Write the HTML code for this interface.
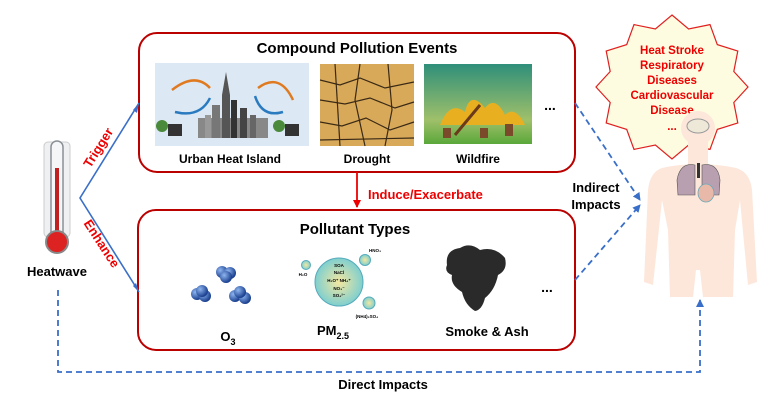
<!DOCTYPE html>
<html><head><meta charset="utf-8"><style>
html,body{margin:0;padding:0;background:#fff}
svg{display:block}
text{font-family:"Liberation Sans",Arial,sans-serif;font-weight:bold}
</style></head><body>
<svg width="782" height="411" viewBox="0 0 782 411" xmlns="http://www.w3.org/2000/svg">
<defs>
<marker id="ab" markerWidth="8" markerHeight="8" refX="7" refY="4" orient="auto" markerUnits="userSpaceOnUse"><path d="M0,0 L8,4 L0,8 z" fill="#3a6fc9"/></marker>
<marker id="ar" markerWidth="8" markerHeight="8" refX="7" refY="4" orient="auto" markerUnits="userSpaceOnUse"><path d="M0,0 L8,4 L0,8 z" fill="#e00"/></marker>
<radialGradient id="bl" cx="35%" cy="35%" r="65%"><stop offset="0" stop-color="#8fb6f0"/><stop offset="1" stop-color="#1a3f8f"/></radialGradient>
<radialGradient id="pm" cx="50%" cy="50%" r="50%"><stop offset="0" stop-color="#f4e7a0"/><stop offset="1" stop-color="#7fcfcf"/></radialGradient>
<linearGradient id="fire" x1="0" y1="0" x2="0" y2="1"><stop offset="0" stop-color="#2f8f7a"/><stop offset="0.7" stop-color="#9fc06a"/><stop offset="1" stop-color="#5aa83a"/></linearGradient>
</defs>

<rect x="139" y="33" width="436" height="139" rx="18" fill="#fff" stroke="#b00" stroke-width="2"/>
<rect x="138" y="210" width="437" height="140" rx="18" fill="#fff" stroke="#b00" stroke-width="2"/>
<text x="357" y="53" font-size="15" text-anchor="middle">Compound Pollution Events</text>
<text x="355" y="234" font-size="15" text-anchor="middle">Pollutant Types</text>

<rect x="155" y="63" width="154" height="83" fill="#dce8f4"/>
<g fill="#555">
<rect x="198" y="118" width="70" height="20" fill="#888"/>
<rect x="222" y="95" width="8" height="43"/><polygon points="226,72 222,95 230,95"/>
<rect x="231" y="100" width="6" height="38" fill="#333"/>
<rect x="212" y="105" width="8" height="33" fill="#777"/>
<rect x="240" y="108" width="7" height="30" fill="#444"/>
<rect x="205" y="115" width="6" height="23" fill="#999"/>
<rect x="250" y="115" width="6" height="23" fill="#666"/>
</g>
<circle cx="162" cy="126" r="6" fill="#4a8a3a"/><rect x="168" y="124" width="14" height="12" fill="#333"/>
<circle cx="279" cy="126" r="6" fill="#4a8a3a"/><rect x="285" y="124" width="14" height="12" fill="#333"/>
<path d="M210,88 Q195,72 172,90" fill="none" stroke="#e07a20" stroke-width="2.5"/>
<path d="M175,112 Q200,118 210,98" fill="none" stroke="#2a7ac0" stroke-width="2.5"/>
<path d="M258,88 Q280,72 293,100" fill="none" stroke="#e07a20" stroke-width="2.5"/>
<path d="M283,112 Q262,118 255,96" fill="none" stroke="#2a7ac0" stroke-width="2.5"/>
<text x="230" y="163" font-size="12" text-anchor="middle">Urban Heat Island</text>

<rect x="320" y="64" width="94" height="82" fill="#d9a95a"/>
<g stroke="#3a2a15" stroke-width="1.2" fill="none">
<path d="M320,80 L340,85 L360,78 L385,88 L414,82"/><path d="M320,100 L345,104 L370,98 L395,108 L414,102"/>
<path d="M320,122 L342,126 L366,118 L390,130 L414,122"/><path d="M335,64 L340,146"/><path d="M360,64 L355,100 L365,146"/><path d="M388,64 L392,110 L385,146"/>
<path d="M320,140 L414,138"/>
</g>
<text x="367" y="163" font-size="12" text-anchor="middle">Drought</text>

<rect x="424" y="64" width="108" height="80" fill="url(#fire)"/>
<path d="M440,125 Q450,100 465,112 Q470,90 485,108 Q495,95 505,115 Q515,105 525,125 Z" fill="#e8b020"/>
<rect x="443" y="128" width="8" height="10" fill="#7a4a2a"/><rect x="480" y="128" width="8" height="10" fill="#7a4a2a"/><rect x="505" y="124" width="8" height="12" fill="#7a4a2a"/>
<line x1="455" y1="135" x2="480" y2="105" stroke="#6a3a1a" stroke-width="3"/>
<text x="478" y="163" font-size="12" text-anchor="middle">Wildfire</text>
<text x="550" y="110" font-size="14" text-anchor="middle">...</text>

<g fill="url(#bl)">
<circle cx="222" cy="272" r="6"/><circle cx="230" cy="273" r="6"/>
<circle cx="197" cy="294" r="6"/><circle cx="205" cy="296" r="6"/>
<circle cx="235" cy="296" r="6"/><circle cx="245" cy="298" r="6"/>
<circle cx="226" cy="277" r="6"/><circle cx="202" cy="291" r="6"/><circle cx="240" cy="292" r="6"/>
</g>
<text x="228" y="341" font-size="13" text-anchor="middle">O<tspan font-size="9" dy="4">3</tspan></text>

<circle cx="339" cy="282" r="24" fill="url(#pm)" stroke="#5ab" stroke-width="1"/>
<circle cx="306" cy="265" r="4.5" fill="url(#pm)" stroke="#5ab"/>
<circle cx="365" cy="260" r="5.5" fill="url(#pm)" stroke="#5ab"/>
<circle cx="369" cy="303" r="6" fill="url(#pm)" stroke="#5ab"/>
<g font-size="4.5" text-anchor="middle">
<text x="339" y="267">SOA</text><text x="339" y="274">NaCl</text><text x="339" y="282">H₂O⁺ NH₄⁺</text><text x="339" y="290">NO₃⁻</text><text x="339" y="297">SO₄²⁻</text>
<text x="303" y="276">H₂O</text><text x="375" y="252">HNO₃</text><text x="367" y="318">(NH4)₂SO₄</text>
</g>
<text x="333" y="335" font-size="13" text-anchor="middle">PM<tspan font-size="9" dy="4">2.5</tspan></text>

<path d="M447,265 Q445,250 460,248 Q470,242 480,250 Q495,246 505,258 Q508,270 498,275 Q495,290 485,298 Q482,310 475,311 Q465,305 462,292 Q450,285 452,275 Q444,272 447,265 Z" fill="#2a2a2a"/>
<text x="487" y="336" font-size="13" text-anchor="middle">Smoke &amp; Ash</text>
<text x="547" y="292" font-size="14" text-anchor="middle">...</text>

<rect x="44" y="142" width="26" height="95" rx="4" fill="#eef0f2" stroke="#ccc"/>
<rect x="51" y="141" width="12" height="100" rx="6" fill="#f4f6f8" stroke="#8a9096" stroke-width="1.5"/>
<rect x="55" y="168" width="4" height="68" fill="#c02020"/>
<circle cx="57" cy="242" r="11" fill="#d22" stroke="#888" stroke-width="2"/>
<text x="57" y="276" font-size="13" text-anchor="middle">Heatwave</text>

<polyline points="139,103 80,198 139,292" fill="none" stroke="#3a6fc9" stroke-width="1.6"/>
<path d="M133,110 L139,103 L137,113 z" fill="#3a6fc9"/>
<path d="M133,286 L139,292 L136,283 z" fill="#3a6fc9"/>
<text transform="translate(102,150) rotate(-58)" font-size="13" fill="#e00" text-anchor="middle">Trigger</text>
<text transform="translate(98,246) rotate(57)" font-size="13" fill="#e00" text-anchor="middle">Enhance</text>

<line x1="357" y1="172" x2="357" y2="207" stroke="#e00" stroke-width="1.8" marker-end="url(#ar)"/>
<text x="368" y="199" font-size="13" fill="#e00">Induce/Exacerbate</text>

<polyline points="575,103 640,200" fill="none" stroke="#3a6fc9" stroke-width="1.8" stroke-dasharray="6,4" marker-end="url(#ab)"/>
<polyline points="575,280 640,205" fill="none" stroke="#3a6fc9" stroke-width="1.8" stroke-dasharray="6,4" marker-end="url(#ab)"/>
<text x="596" y="192" font-size="13" text-anchor="middle">Indirect</text>
<text x="596" y="209" font-size="13" text-anchor="middle">Impacts</text>

<polyline points="58,290 58,372 700,372 700,300" fill="none" stroke="#3a6fc9" stroke-width="1.8" stroke-dasharray="6,4" marker-end="url(#ab)"/>
<text x="383" y="389" font-size="13" text-anchor="middle">Direct Impacts</text>

<!-- star -->
<polygon points="672,15 688.6,29 710,24.6 717.3,44.6 737.8,51 733.8,71.5 748,87 733.8,102.5 737.8,123 717.3,129.4 710,149.4 688.6,145 672,159 655.4,145 634,149.4 626.7,129.4 606.2,123 610.2,102.5 596,87 610.2,71.5 606.2,51 626.7,44.6 634,24.6 655.4,29" fill="#fdfce0" stroke="#e02020" stroke-width="1.2"/>
<g font-size="11.5" fill="#e00" text-anchor="middle">
<text x="672" y="54">Heat Stroke</text><text x="672" y="69">Respiratory</text><text x="672" y="84">Diseases</text><text x="672" y="99">Cardiovascular</text><text x="672" y="114">Disease</text><text x="672" y="130">...</text>
</g>

<!-- body -->
<g fill="#fde6da">
<circle cx="698" cy="128" r="17"/>
<rect x="688" y="140" width="20" height="30"/>
<path d="M662,168 Q698,160 736,168 Q750,172 752,190 L757,282 L748,285 L740,200 L735,230 L733,297 L703,297 L700,270 L696,270 L693,297 L670,297 L668,230 L662,200 L653,285 L644,282 L648,190 Q650,172 662,168 Z"/>
</g>
<ellipse cx="698" cy="126" rx="11" ry="7" fill="#eee8d8" stroke="#999"/>
<path d="M695,165 Q680,162 677,180 L678,195 L695,195 Z" fill="#b9a0b0" stroke="#555" stroke-width="0.6"/>
<path d="M702,165 Q718,162 720,180 L719,195 L702,195 Z" fill="#b9a0b0" stroke="#555" stroke-width="0.6"/>
<rect x="697" y="163" width="3" height="15" fill="#333"/>
<ellipse cx="706" cy="193" rx="8" ry="9" fill="#e8b8a8" stroke="#6ab" stroke-width="0.8"/>
</svg>
</body></html>
